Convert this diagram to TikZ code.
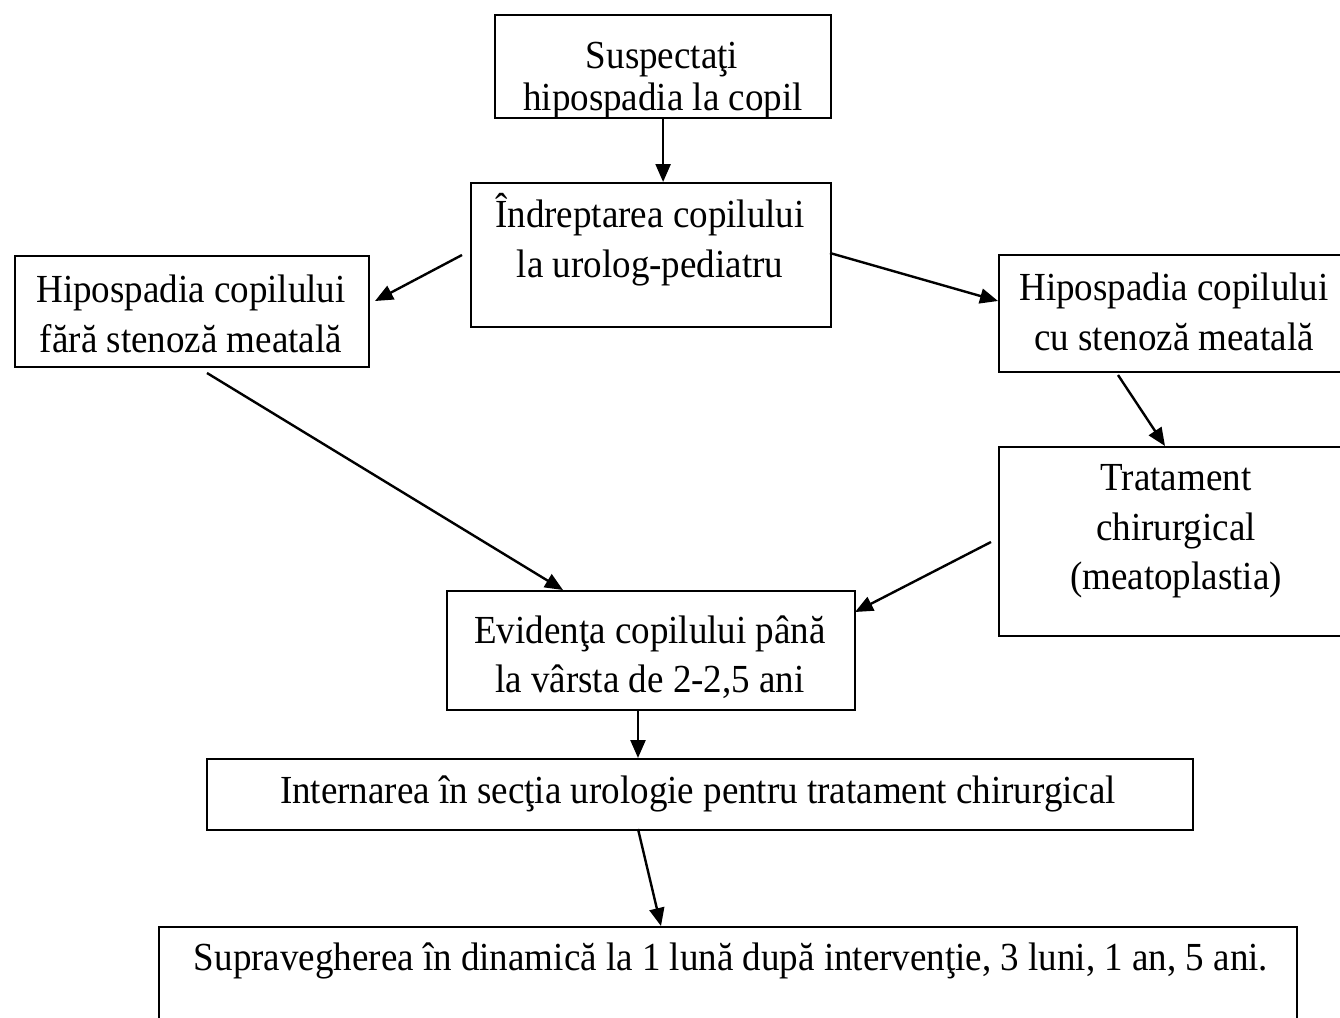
\documentclass[tikz,border=0pt]{standalone}
\usepackage{fontspec}
\setmainfont{Liberation Serif}[FakeStretch=0.93]
\usetikzlibrary{arrows.meta}
\begin{document}
\begin{tikzpicture}[x=0.5pt,y=-0.5pt,
  box/.style={draw, line width=1.1pt, inner sep=0pt, anchor=north west},
  txt/.style={anchor=base, inner sep=0pt, font=\fontsize{19.9}{25}\selectfont},
  arr/.style={line width=1.2pt, -{Triangle[length=9pt,width=7.5pt]}}]
\clip (0,0) rectangle (1340,1018);
\fill[white] (0,0) rectangle (1340,1018);
% boxes
\node[box, minimum width=168pt, minimum height=51.5pt] (b1) at (494,14) {};
\node[box, minimum width=180pt, minimum height=72pt] (b2) at (470,182) {};
\node[box, minimum width=177pt, minimum height=55.5pt] (b3) at (14,255) {};
\node[box, minimum width=176pt, minimum height=58.5pt] (b4) at (998,254) {};
\node[box, minimum width=176pt, minimum height=94.5pt] (b5) at (998,446) {};
\node[box, minimum width=204pt, minimum height=59.5pt] (b6) at (446,590) {};
\node[box, minimum width=493pt, minimum height=35.5pt] (b7) at (206,758) {};
\node[box, minimum width=569pt, minimum height=75pt] (b8) at (158,926) {};
% texts
\node[txt] (t1a) at (662,68) {Suspectaţi};
\node[txt] (t1b) at (663,110) {hipospadia la copil};
\node[txt] (t2a) at (650,227) {Îndreptarea copilului};
\node[txt] (t2b) at (650,277) {la urolog-pediatru};
\node[txt] (t3a) at (191,302) {Hipospadia copilului};
\node[txt] (t3b) at (191,352) {fără stenoză meatală};
\node[txt] (t4a) at (1174,300) {Hipospadia copilului};
\node[txt] (t4b) at (1174,350) {cu stenoză meatală};
\node[txt] (t5a) at (1176,490) {Tratament};
\node[txt] (t5b) at (1176,540) {chirurgical};
\node[txt] (t5c) at (1176,589) {(meatoplastia)};
\node[txt] (t6a) at (650,643) {Evidenţa copilului până};
\node[txt] (t6b) at (650,692) {la vârsta de 2-2,5 ani};
\node[txt] (t7) at (698,803) {Internarea în secţia urologie pentru tratament chirurgical};
\node[txt] (t8) at (731,970) {Supravegherea în dinamică la 1 lună după intervenţie, 3 luni, 1 an, 5 ani.};
% connector end points
\coordinate (p2s) at (462,255);
\coordinate (p2e) at (375,301);
\coordinate (p3s) at (830,253);
\coordinate (p3e) at (998,301);
\coordinate (p4s) at (1118,375);
\coordinate (p4e) at (1165,446);
\coordinate (p5s) at (991,542);
\coordinate (p5e) at (855,612);
\coordinate (p6s) at (207,373);
\coordinate (p6e) at (563,590);
\coordinate (p8s) at (638,829);
\coordinate (p8e) at (661,926);
% connectors
\draw[arr] (b1.south) -- (b1.south |- b2.north);
\draw[arr] (p2s) -- (p2e);
\draw[arr] (p3s) -- (p3e);
\draw[arr] (p4s) -- (p4e);
\draw[arr] (p5s) -- (p5e);
\draw[arr] (p6s) -- (p6e);
\draw[arr] ([xshift=96pt]b6.south west) -- ([xshift=96pt]b6.south west |- b7.north);
\draw[arr] (p8s) -- (p8e);
\end{tikzpicture}
\end{document}
